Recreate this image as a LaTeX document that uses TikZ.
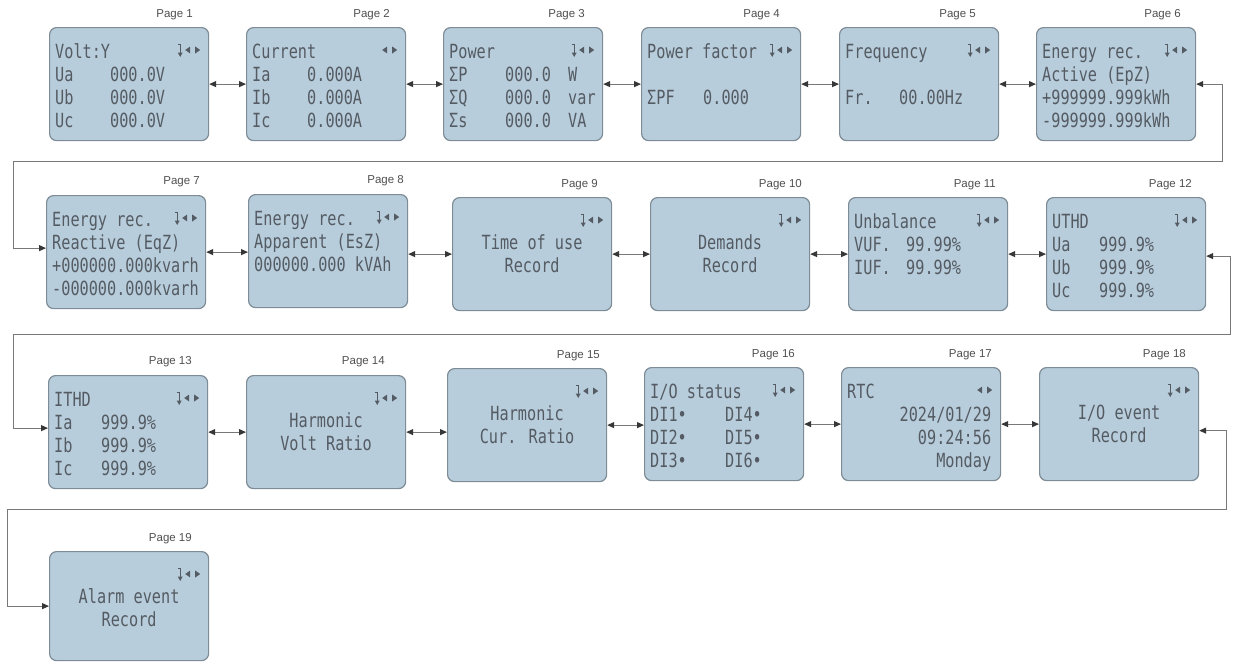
\documentclass[tikz,border=0pt]{standalone}
\usepackage{fontspec}
\setmainfont{Liberation Sans}
\newfontfamily\lcdfont{DejaVu Sans Mono}[FakeStretch=0.78]
\usetikzlibrary{arrows.meta,calc}
\definecolor{boxfill}{RGB}{184,205,219}
\definecolor{boxdraw}{RGB}{125,140,150}
\definecolor{lcdtext}{RGB}{84,91,99}
\definecolor{linecol}{RGB}{120,120,120}
\definecolor{tipcol}{RGB}{55,55,55}
\definecolor{labelcol}{RGB}{80,80,80}
\tikzset{
  screen/.style={draw=boxdraw, fill=boxfill, line width=1.2pt, rounded corners=7pt,
    minimum width=159pt, minimum height=113pt, inner sep=0pt, anchor=north west},
  pagelabel/.style={font=\fontsize{11.5}{12}\selectfont, text=labelcol, anchor=east, inner sep=0pt},
  lcd/.style={font=\lcdfont\fontsize{19.5}{23}\selectfont, text=lcdtext, inner sep=0pt},
  link/.style={draw=linecol, line width=1.1pt,
    {Triangle[length=7pt,width=6pt,color=tipcol]}-{Triangle[length=7pt,width=6pt,color=tipcol]}},
  looplink/.style={link, line width=1pt},
}
\newcommand\navicon[2]{%
  \fill[lcdtext] ($(#1.north east)+(-9,23)$) -- ++(-5,-3.5) -- ++(0,7) -- cycle;
  \fill[lcdtext] ($(#1.north east)+(-24,23)$) -- ++(5,-3.5) -- ++(0,7) -- cycle;
  \ifnum#2=1
    \draw[lcdtext, line width=1pt] ($(#1.north east)+(-31.5,17)$) -- ++(2.5,0) -- ++(0,9);
    \fill[lcdtext] ($(#1.north east)+(-31.5,25.5)$) -- ++(5,0) -- ++(-2.5,4.5) -- cycle;
  \fi
}
\newcommand\listtext[3]{%
  \node[lcd, anchor=base west] (#2) at ($(#1.north west)+(6,31)$)
    {\parbox[t]{150pt}{\raggedright #3}};}
\newcommand\centertext[3]{%
  \node[lcd, anchor=base] (#2) at ($(#1.north)+(0,52)$)
    {\parbox[t]{150pt}{\centering #3}};}
\begin{document}
\begin{tikzpicture}[x=1pt,y=-1pt]
\useasboundingbox (0,0) rectangle (1233,662);
\fill[white] (0,0) rectangle (1233,662);

% ---------- screens ----------
\node[screen] (p1) at (49,27) {};
\node[screen] (p2) at (246,27) {};
\node[screen] (p3) at (443,27) {};
\node[screen] (p4) at (641,27) {};
\node[screen] (p5) at (839,27) {};
\node[screen] (p6) at (1036,27) {};
\node[screen] (p7) at (46,195) {};
\node[screen] (p8) at (248,194) {};
\node[screen] (p9) at (452,197) {};
\node[screen] (p10) at (650,197) {};
\node[screen] (p11) at (848,197) {};
\node[screen] (p12) at (1046,197) {};
\node[screen] (p13) at (48,375) {};
\node[screen] (p14) at (246,375) {};
\node[screen] (p15) at (447,368) {};
\node[screen] (p16) at (644,367) {};
\node[screen] (p17) at (841,367) {};
\node[screen] (p18) at (1039,367) {};
\node[screen, minimum height=109pt] (p19) at (49,551) {};

% ---------- page labels ----------
\node[pagelabel] (l1) at (193,14.5) {Page 1};
\node[pagelabel] (l2) at (390,14.5) {Page 2};
\node[pagelabel] (l3) at (585,14.5) {Page 3};
\node[pagelabel] (l4) at (780,14.5) {Page 4};
\node[pagelabel] (l5) at (976,14.5) {Page 5};
\node[pagelabel] (l6) at (1181,14.5) {Page 6};
\node[pagelabel] (l7) at (200,182) {Page 7};
\node[pagelabel] (l8) at (404,181) {Page 8};
\node[pagelabel] (l9) at (598,185) {Page 9};
\node[pagelabel] (l10) at (802,185) {Page 10};
\node[pagelabel] (l11) at (996,185) {Page 11};
\node[pagelabel] (l12) at (1192,185) {Page 12};
\node[pagelabel] (l13) at (192,362) {Page 13};
\node[pagelabel] (l14) at (385,362) {Page 14};
\node[pagelabel] (l15) at (600,356) {Page 15};
\node[pagelabel] (l16) at (795,355) {Page 16};
\node[pagelabel] (l17) at (992,355) {Page 17};
\node[pagelabel] (l18) at (1186,355) {Page 18};
\node[pagelabel] (l19) at (192,539) {Page 19};

% ---------- screen texts ----------
\listtext{p1}{t1}{Volt:Y\\\makebox[55pt][l]{Ua}000.0V\\\makebox[55pt][l]{Ub}000.0V\\\makebox[55pt][l]{Uc}000.0V}
\listtext{p2}{t2}{Current\\\makebox[55pt][l]{Ia}0.000A\\\makebox[55pt][l]{Ib}0.000A\\\makebox[55pt][l]{Ic}0.000A}
\listtext{p3}{t3}{Power\\\makebox[56pt][l]{ΣP}\makebox[63pt][l]{000.0}W\\\makebox[56pt][l]{ΣQ}\makebox[63pt][l]{000.0}var\\\makebox[56pt][l]{Σs}\makebox[63pt][l]{000.0}VA}
\listtext{p4}{t4}{Power factor\\\mbox{}\\\makebox[56pt][l]{ΣPF}0.000}
\listtext{p5}{t5}{Frequency\\\mbox{}\\\makebox[54pt][l]{Fr.}00.00Hz}
\listtext{p6}{t6}{Energy rec.\\Active (EpZ)\\+999999.999kWh\\-999999.999kWh}
\listtext{p7}{t7}{Energy rec.\\Reactive (EqZ)\\+000000.000kvarh\\-000000.000kvarh}
\listtext{p8}{t8}{Energy rec.\\Apparent (EsZ)\\000000.000 kVAh}
\centertext{p9}{t9}{Time of use\\Record}
\centertext{p10}{t10}{Demands\\Record}
\listtext{p11}{t11}{Unbalance\\\makebox[52pt][l]{VUF.}99.99\%\\\makebox[52pt][l]{IUF.}99.99\%}
\listtext{p12}{t12}{UTHD\\\makebox[47pt][l]{Ua}999.9\%\\\makebox[47pt][l]{Ub}999.9\%\\\makebox[47pt][l]{Uc}999.9\%}
\listtext{p13}{t13}{ITHD\\\makebox[47pt][l]{Ia}999.9\%\\\makebox[47pt][l]{Ib}999.9\%\\\makebox[47pt][l]{Ic}999.9\%}
\centertext{p14}{t14}{Harmonic\\Volt Ratio}
\centertext{p15}{t15}{Harmonic\\Cur. Ratio}
\listtext{p16}{t16}{I/O status\\\makebox[75pt][l]{DI1•}DI4•\\\makebox[75pt][l]{DI2•}DI5•\\\makebox[75pt][l]{DI3•}DI6•}
\node[lcd, anchor=base west] (t17) at ($(p17.north west)+(6,31)$)
  {\parbox[t]{144pt}{\raggedright RTC\\\mbox{}\hfill 2024/01/29\\\mbox{}\hfill 09:24:56\\\mbox{}\hfill Monday}};
\centertext{p18}{t18}{I/O event\\Record}
\centertext{p19}{t19}{Alarm event\\Record}

% ---------- nav icons ----------
\navicon{p1}{1}
\navicon{p2}{0}
\navicon{p3}{1}
\navicon{p4}{1}
\navicon{p5}{1}
\navicon{p6}{1}
\navicon{p7}{1}
\navicon{p8}{1}
\navicon{p9}{1}
\navicon{p10}{1}
\navicon{p11}{1}
\navicon{p12}{1}
\navicon{p13}{1}
\navicon{p14}{1}
\navicon{p15}{1}
\navicon{p16}{1}
\navicon{p17}{0}
\navicon{p18}{1}
\navicon{p19}{1}

% ---------- links between neighbours ----------
\draw[link] (p1.east) -- (p2.west);
\draw[link] (p2.east) -- (p3.west);
\draw[link] (p3.east) -- (p4.west);
\draw[link] (p4.east) -- (p5.west);
\draw[link] (p5.east) -- (p6.west);
\draw[link] (p7.east) -- (p7.east -| p8.west);
\draw[link] (p9.west -| p8.east) -- (p9.west);
\draw[link] (p9.east) -- (p10.west);
\draw[link] (p10.east) -- (p11.west);
\draw[link] (p11.east) -- (p12.west);
\draw[link] (p13.east) -- (p14.west);
\draw[link] (p14.east) -- (p14.east -| p15.west);
\draw[link] (p15.east) -- (p15.east -| p16.west);
\draw[link] (p16.east) -- (p17.west);
\draw[link] (p17.east) -- (p18.west);

% ---------- wrap-around loops ----------
\coordinate (r1) at (1222,161);
\coordinate (w1) at (13,161);
\coordinate (r2) at (1230,334);
\coordinate (w2) at (13,334);
\coordinate (r3) at (1226,509);
\coordinate (w3) at (7,509);
\draw[looplink] (p6.east) -| (r1) -- (w1) |- ([yshift=4pt]p7.west);
\draw[looplink] ([yshift=-2pt]p12.east) -| (r2) -- (w2) |- ([yshift=4pt]p13.west);
\draw[looplink] ([yshift=-6.5pt]p18.east) -| (r3) -- (w3) |- (p19.west);
\end{tikzpicture}
\end{document}
